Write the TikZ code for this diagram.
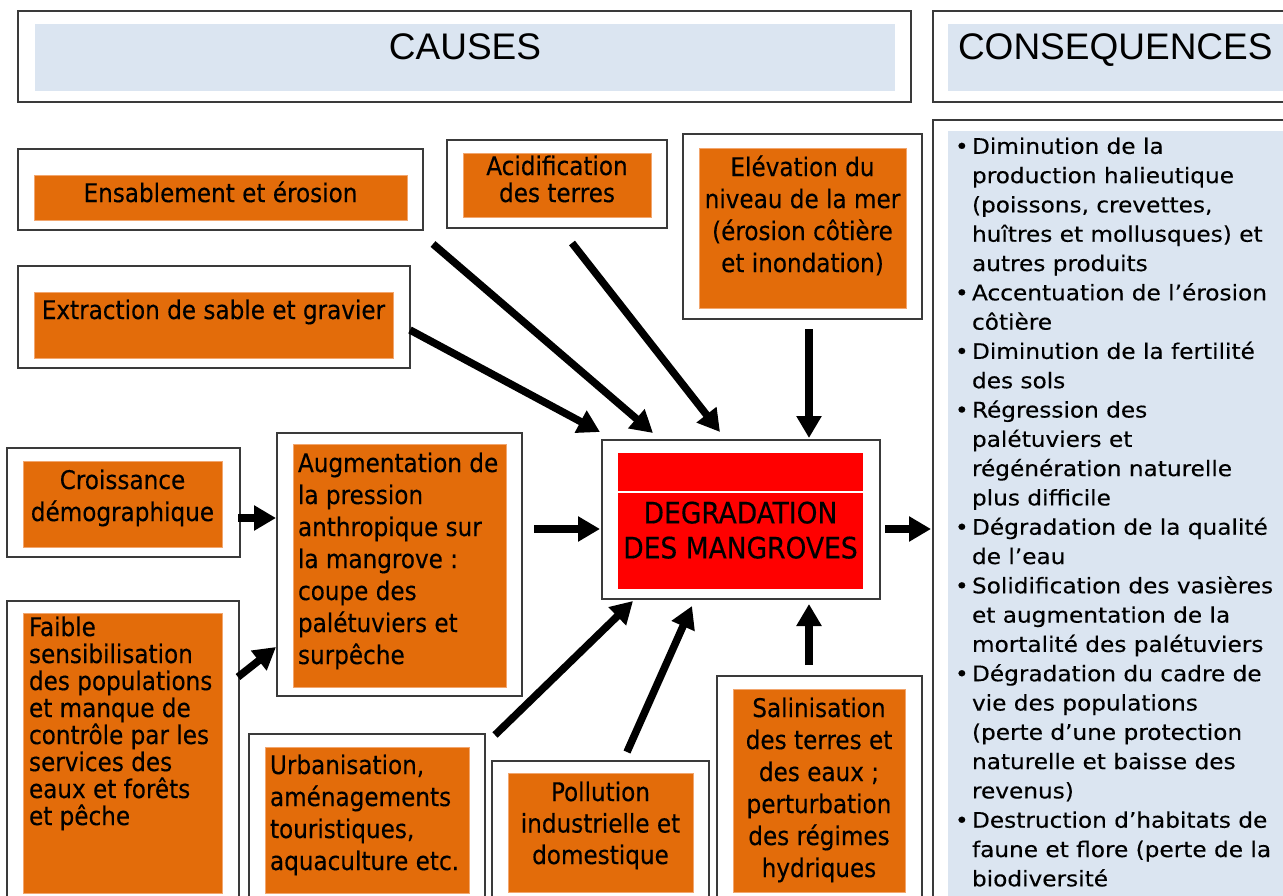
\documentclass[tikz,border=0pt]{standalone}
\usepackage{fontspec}
\setmainfont{Liberation Sans}
\newfontfamily\tah[FakeBold=0.25]{DejaVu Sans Condensed}
\newfontfamily\tahW[FakeStretch=1.2,FakeBold=0.25]{DejaVu Sans Condensed}
\usetikzlibrary{arrows.meta,calc}
\definecolor{orng}{HTML}{E36C0A}
\definecolor{lblue}{HTML}{DBE5F1}
\definecolor{bord}{HTML}{3A3A3A}
\definecolor{pedge}{HTML}{F2A66E}
\newcommand{\bu}{\makebox[17pt][l]{•}}
\newcommand{\ind}{\hspace*{17pt}}
\begin{document}
\begin{tikzpicture}[x=1pt,y=-1pt,
  outer/.style={draw=bord, line width=1.5pt, fill=white, inner sep=0, outer sep=0, anchor=north west},
  obox/.style={fill=orng, draw=pedge, line width=0.8pt, inner sep=0, outer sep=0, anchor=north west},
  bbox/.style={fill=lblue, inner sep=0, outer sep=0, anchor=north west},
  rbox/.style={fill=red, inner sep=0, outer sep=0, anchor=north west},
  txt/.style={inner sep=0, outer sep=0, text=black},
  ctxt/.style={txt, align=center, anchor=north},
  ltxt/.style={txt, align=left, anchor=north west},
  fA/.style={font=\tah\fontsize{25.7}{27}\selectfont},
  fB/.style={font=\tah\fontsize{25.7}{32}\selectfont},
  arr/.style={line width=7.5pt, -{Triangle[length=22pt,width=24pt]}}]
\useasboundingbox (0,0) rectangle (1283,896);
\fill[white] (0,0) rectangle (1283,896);
\clip (0,0) rectangle (1283,896);

% headers
\node[outer, minimum width=893pt, minimum height=91pt] (hdrC) at (18,11) {};
\node[bbox, minimum width=860pt, minimum height=67pt] (hdrCI) at (35,24) {};
\node[txt, font=\fontsize{37}{40}\selectfont] (hdrCT) at (465,46.5) {CAUSES};
\node[outer, minimum width=400pt, minimum height=91pt] (hdrQ) at (933,11) {};
\node[bbox, minimum width=400pt, minimum height=67pt] (hdrQI) at (948,24) {};
\node[txt, anchor=base west, font=\fontsize{37}{40}\selectfont] (hdrQT) at (958,60) {CONSEQUENCES};

% causes
\node[outer, minimum width=405pt, minimum height=81pt] (ens) at (18,149) {};
\node[obox, minimum width=373pt, minimum height=45pt] (ensI) at (34,175) {};
\node[ctxt, fA] (ensT) at (220.5,181.5) {Ensablement et érosion};

\node[outer, minimum width=392pt, minimum height=102pt] (ext) at (18,266) {};
\node[obox, minimum width=359pt, minimum height=66pt] (extI) at (34,292) {};
\node[ctxt, fA] (extT) at (213.5,299.5) {Extraction de sable et gravier};

\node[outer, minimum width=220pt, minimum height=88pt] (aci) at (447,140) {};
\node[obox, minimum width=188pt, minimum height=64pt] (aciI) at (463,153) {};
\node[ctxt, fA] (aciT) at (557,155.5) {Acidification\\des terres};

\node[outer, minimum width=239pt, minimum height=185pt] (ele) at (683,134) {};
\node[obox, minimum width=207pt, minimum height=160pt] (eleI) at (699,148) {};
\node[ctxt, fB] (eleT) at (802.5,155.5) {Elévation du\\niveau de la mer\\(érosion côtière\\et inondation)};

\node[outer, minimum width=233pt, minimum height=109pt] (cro) at (7,448) {};
\node[obox, minimum width=199pt, minimum height=86pt] (croI) at (23,461) {};
\node[ctxt, fB] (croT) at (122.5,469.5) {Croissance\\démographique};

\node[outer, minimum width=245pt, minimum height=263pt] (aug) at (277,433) {};
\node[obox, minimum width=213pt, minimum height=243pt] (augI) at (293,444) {};
\node[ltxt, fB] (augT) at (298,452.5) {Augmentation de\\la pression\\anthropique sur\\la mangrove :\\coupe des\\palétuviers et\\surpêche};

\node[outer, minimum width=232pt, minimum height=320pt] (fai) at (7,601) {};
\node[obox, minimum width=199pt, minimum height=280pt] (faiI) at (23,613) {};
\node[ltxt, fA] (faiT) at (29,616.5) {Faible\\sensibilisation\\des populations\\et manque de\\contrôle par les\\services des\\eaux et forêts\\et pêche};

\node[outer, minimum width=236pt, minimum height=200pt] (urb) at (249,734) {};
\node[obox, minimum width=204pt, minimum height=146pt] (urbI) at (265,747) {};
\node[ltxt, fB] (urbT) at (270,754.5) {Urbanisation,\\aménagements\\touristiques,\\aquaculture etc.};

\node[outer, minimum width=217pt, minimum height=200pt] (pol) at (492,761) {};
\node[obox, minimum width=185pt, minimum height=119pt] (polI) at (508,773) {};
\node[ctxt, font=\tah\fontsize{25.7}{31.5}\selectfont] (polT) at (600.5,781.5) {Pollution\\industrielle et\\domestique};

\node[outer, minimum width=205pt, minimum height=250pt] (sal) at (717,676) {};
\node[obox, minimum width=172pt, minimum height=203pt] (salI) at (733,689) {};
\node[ctxt, fB] (salT) at (819,697.5) {Salinisation\\des terres et\\des eaux ;\\perturbation\\des régimes\\hydriques};

% centre
\node[outer, minimum width=278pt, minimum height=159pt] (deg) at (602,440) {};
\node[rbox, minimum width=245pt, minimum height=136pt] (degI) at (618,453) {};
\draw[white, line width=1.5pt] ($(degI.north west)+(0,39)$) -- ($(degI.north east)+(0,39)$);
\node[ctxt, font=\tah\fontsize{29.5}{35}\selectfont] (degT) at (740.5,501.5) {DEGRADATION\\DES MANGROVES};

% consequences
\node[outer, minimum width=400pt, minimum height=800pt] (lst) at (933,120) {};
\node[bbox, minimum width=400pt, minimum height=800pt] (lstI) at (948,131) {};
\node[ltxt, font=\tahW\fontsize{21.5}{29.3}\selectfont] (lstT) at (955,137.5) {%
\bu Diminution de la\\
\ind production halieutique\\
\ind (poissons, crevettes,\\
\ind huîtres et mollusques) et\\
\ind autres produits\\
\bu Accentuation de l’érosion\\
\ind côtière\\
\bu Diminution de la fertilité\\
\ind des sols\\
\bu Régression des\\
\ind palétuviers et\\
\ind régénération naturelle\\
\ind plus difficile\\
\bu Dégradation de la qualité\\
\ind de l’eau\\
\bu Solidification des vasières\\
\ind et augmentation de la\\
\ind mortalité des palétuviers\\
\bu Dégradation du cadre de\\
\ind vie des populations\\
\ind (perte d’une protection\\
\ind naturelle et baisse des\\
\ind revenus)\\
\bu Destruction d’habitats de\\
\ind faune et flore (perte de la\\
\ind biodiversité};

% arrows
\draw[arr] ($(ens.south east)+(10,14)$) -- ($(deg.north west)+(51,-7)$);
\draw[arr] ($(aci.south)+(15,15)$) -- ($(deg.north west)+(118,-8)$);
\draw[arr] ($(ext.east)+(0,13)$) -- ($(deg.north west)+(-2,-8)$);
\draw[arr] ($(ele.south)+(6.5,10)$) -- ($(deg.north west)+(207,-2)$);
\draw[arr] ($(cro.east)+(-2,15.5)$) -- ($(aug.west)+(-1,-46.5)$);
\draw[arr] ($(fai.north east)+(-1,76)$) -- ($(aug.west)+(-1,82.5)$);
\draw[arr] ($(aug.east)+(12,-35.5)$) -- ($(deg.west)+(-2,9.5)$);
\draw[arr] ($(urb.north east)+(10,1)$) -- ($(deg.south west)+(31,2)$);
\draw[arr] ($(pol.north west)+(135,-9)$) -- ($(deg.south west)+(90,7)$);
\draw[arr] ($(sal.north west)+(92,-11)$) -- ($(deg.south west)+(207,5)$);
\draw[arr] ($(deg.east)+(5,9.5)$) -- ($(lst.north west)+(-2,409)$);
\end{tikzpicture}
\end{document}
